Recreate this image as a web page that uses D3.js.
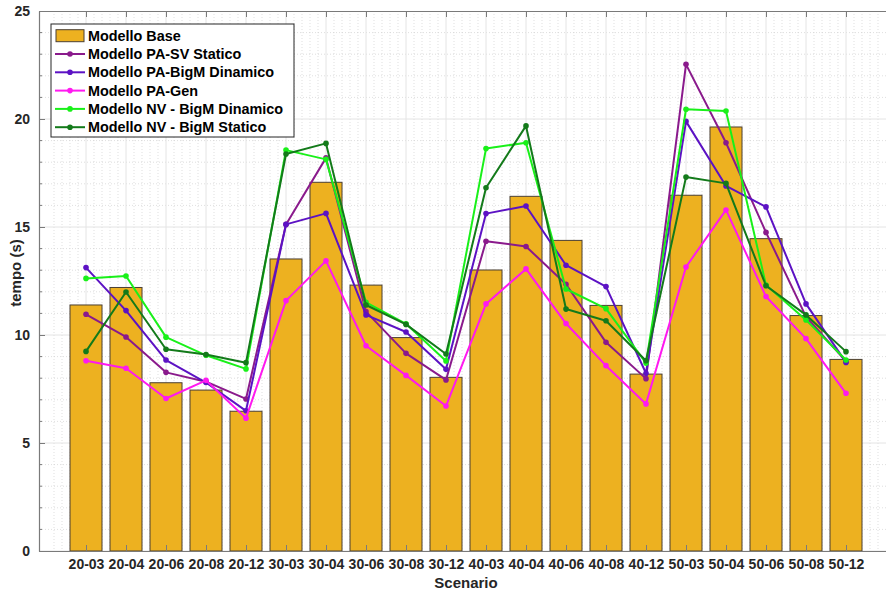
<!DOCTYPE html>
<html>
<head>
<meta charset="utf-8">
<script src="https://cdn.jsdelivr.net/npm/d3@7"></script>
<style>
  html, body { margin: 0; padding: 0; background: #fff; }
  svg { display: block; font-family: "Liberation Sans", Arial, Helvetica, sans-serif; }
</style>
</head>
<body>
<svg id="chart" width="886" height="595"></svg>
<script>
// Scenario labels (rows-columns) along the x axis
const categories = ["20-03","20-04","20-06","20-08","20-12","30-03","30-04","30-06","30-08","30-12",
                    "40-03","40-04","40-06","40-08","40-12","50-03","50-04","50-06","50-08","50-12"];

// Solve times in seconds
const modelloBase = [11.39, 12.20, 7.79, 7.45, 6.47, 13.52, 17.07, 12.31, 9.88, 8.04,
                     13.01, 16.42, 14.38, 11.37, 8.19, 16.47, 19.63, 14.46, 10.90, 8.87];
const paSvStatico = [10.96, 9.91, 8.27, 7.84, 7.04, 15.12, 18.20, 11.08, 9.15, 7.92,
                     14.34, 14.10, 12.35, 9.66, 7.98, 22.53, 18.90, 14.75, 10.85, 8.78];
const paBigMDinamico = [13.12, 11.13, 8.84, 7.80, 6.49, 15.12, 15.63, 10.93, 10.14, 8.41,
                        15.62, 15.97, 13.23, 12.24, 8.23, 19.89, 16.90, 15.93, 11.44, 8.73];
const paGen = [8.81, 8.46, 7.06, 7.90, 6.15, 11.59, 13.43, 9.50, 8.13, 6.71,
               11.44, 13.06, 10.53, 8.58, 6.81, 13.15, 15.79, 11.78, 9.83, 7.30];
const nvBigMDinamico = [12.62, 12.73, 9.90, 9.06, 8.43, 18.56, 18.13, 11.51, 10.52, 8.80,
                        18.63, 18.90, 12.13, 11.22, 8.70, 20.45, 20.37, 12.31, 10.70, 8.84];
const nvBigMStatico = [9.24, 11.99, 9.34, 9.10, 8.72, 18.38, 18.87, 11.39, 10.49, 9.12,
                       16.82, 19.68, 11.20, 10.66, 8.81, 17.31, 17.02, 12.28, 10.93, 9.23];

const yTicks = [0, 5, 10, 15, 20, 25];

const lineSeries = [
  { name: "Modello PA-SV Statico",     values: paSvStatico,    color: "#8a1a8c" },
  { name: "Modello PA-BigM Dinamico",  values: paBigMDinamico, color: "#5c12c4" },
  { name: "Modello PA-Gen",            values: paGen,          color: "#ff19f0" },
  { name: "Modello NV - BigM Dinamico",values: nvBigMDinamico, color: "#19f019" },
  { name: "Modello NV - BigM Statico", values: nvBigMStatico,  color: "#137a1a" }
];
const barColor = "#edb120";

const svg = d3.select("#chart");
const plotL = 39, plotT = 11, plotB = 551, plotR = 893;

// Index-based x scale (category i sits at integer i)
const x = d3.scaleLinear().domain([-1.175, categories.length - 1 + 1.175]).range([plotL, plotR]);
const y = d3.scaleLinear().domain([0, 25]).range([plotB, plotT]);

svg.append("defs").append("clipPath").attr("id", "plot-clip")
  .append("rect").attr("x", plotL).attr("y", plotT).attr("width", plotR - plotL).attr("height", plotB - plotT);

const plot = svg.append("g").attr("clip-path", "url(#plot-clip)");
plot.append("rect").attr("x", plotL).attr("y", plotT).attr("width", plotR - plotL).attr("height", plotB - plotT)
  .attr("fill", "#ffffff");

// Minor grid (dotted)
const xMinor = d3.range(-1, categories.length + 1.01, 0.2).filter(v => Math.abs(v - Math.round(v)) > 1e-6);
plot.append("g").selectAll("line").data(xMinor).join("line")
  .attr("x1", d => x(d)).attr("x2", d => x(d)).attr("y1", plotT).attr("y2", plotB)
  .attr("stroke", "#c9c9c9").attr("stroke-width", 0.6).attr("stroke-dasharray", "1,2");
const yMinor = d3.range(0, 25.01, 1).filter(v => v % 5 !== 0);
plot.append("g").selectAll("line").data(yMinor).join("line")
  .attr("x1", plotL).attr("x2", plotR).attr("y1", d => y(d)).attr("y2", d => y(d))
  .attr("stroke", "#c9c9c9").attr("stroke-width", 0.6).attr("stroke-dasharray", "1,2");

// Major grid (solid, light)
plot.append("g").selectAll("line").data(d3.range(categories.length)).join("line")
  .attr("x1", d => x(d)).attr("x2", d => x(d)).attr("y1", plotT).attr("y2", plotB)
  .attr("stroke", "#e4e4e4").attr("stroke-width", 1);
plot.append("g").selectAll("line").data(yTicks).join("line")
  .attr("x1", plotL).attr("x2", plotR).attr("y1", d => y(d)).attr("y2", d => y(d))
  .attr("stroke", "#e4e4e4").attr("stroke-width", 1);

// Bars
const barW = (x(1) - x(0)) * 0.8;
plot.append("g").selectAll("rect").data(modelloBase).join("rect")
  .attr("x", (d, i) => x(i) - barW / 2)
  .attr("y", d => y(d))
  .attr("width", barW)
  .attr("height", d => y(0) - y(d))
  .attr("fill", barColor)
  .attr("stroke", "#4a3f33")
  .attr("stroke-width", 1);

// Lines with dot markers
const lineGen = d3.line().x((d, i) => x(i)).y(d => y(d));
lineSeries.forEach(s => {
  const g = plot.append("g");
  g.append("path").attr("d", lineGen(s.values)).attr("fill", "none")
    .attr("stroke", s.color).attr("stroke-width", 2).attr("stroke-linejoin", "round");
  g.selectAll("circle").data(s.values).join("circle")
    .attr("cx", (d, i) => x(i)).attr("cy", d => y(d)).attr("r", 2.8).attr("fill", s.color);
});

// Axes box with inward ticks
const axisColor = "#7a7a7a";
const tickFont = 14;

const yAxis = d3.axisLeft(y).tickValues(yTicks).tickSizeInner(-6).tickSizeOuter(0).tickPadding(9);
const yg = svg.append("g").attr("transform", `translate(${plotL},0)`).call(yAxis);
svg.append("g").selectAll("line").data(yMinor).join("line")
  .attr("x1", plotL).attr("x2", plotL + 3).attr("y1", d => y(d)).attr("y2", d => y(d))
  .attr("stroke", axisColor).attr("stroke-width", 1);

const xAxis = d3.axisBottom(x).tickValues(d3.range(categories.length))
  .tickFormat(i => categories[i]).tickSizeInner(-6).tickSizeOuter(0).tickPadding(8);
const xg = svg.append("g").attr("transform", `translate(0,${plotB})`).call(xAxis);

const xTop = d3.axisTop(x).tickValues(d3.range(categories.length)).tickFormat("")
  .tickSizeInner(-6).tickSizeOuter(0);
const xtg = svg.append("g").attr("transform", `translate(0,${plotT})`).call(xTop);

[yg, xg, xtg].forEach(g => {
  g.select(".domain").attr("stroke", axisColor).attr("stroke-width", 1.2);
  g.selectAll(".tick line").attr("stroke", axisColor).attr("stroke-width", 1);
  g.selectAll(".tick text").attr("fill", "#262626").attr("font-size", tickFont)
    .attr("font-weight", "bold").attr("font-family", "'Liberation Sans', Arial, sans-serif");
});

// Axis titles
svg.append("text").attr("x", (plotL + plotR) / 2).attr("y", 588).attr("text-anchor", "middle")
  .attr("font-size", 15).attr("font-weight", "bold").attr("fill", "#262626").text("Scenario");
svg.append("text").attr("transform", "translate(21,273) rotate(-90)").attr("text-anchor", "middle")
  .attr("font-size", 15).attr("font-weight", "bold").attr("fill", "#262626").text("tempo (s)");

// Legend
const lg = svg.append("g");
const lgX = 51, lgY = 24, lgW = 243, lgH = 113, rowH = 18.3, firstRow = 35.7;
lg.append("rect").attr("x", lgX).attr("y", lgY).attr("width", lgW).attr("height", lgH)
  .attr("fill", "#ffffff").attr("stroke", "#262626").attr("stroke-width", 1);
lg.append("rect").attr("x", 56).attr("y", firstRow - 6).attr("width", 28).attr("height", 12)
  .attr("fill", barColor).attr("stroke", "#4a3f33").attr("stroke-width", 1);
lg.append("text").attr("x", 88).attr("y", firstRow + 5).attr("font-size", 14.4).attr("font-weight", "bold")
  .attr("fill", "#000").text("Modello Base");
lineSeries.forEach((s, k) => {
  const cy = firstRow + rowH * (k + 1);
  lg.append("line").attr("x1", 55).attr("x2", 85).attr("y1", cy).attr("y2", cy)
    .attr("stroke", s.color).attr("stroke-width", 2);
  lg.append("circle").attr("cx", 70).attr("cy", cy).attr("r", 2.8).attr("fill", s.color);
  lg.append("text").attr("x", 88).attr("y", cy + 5).attr("font-size", 14.4).attr("font-weight", "bold")
    .attr("fill", "#000").text(s.name);
});
</script>
</body>
</html>
